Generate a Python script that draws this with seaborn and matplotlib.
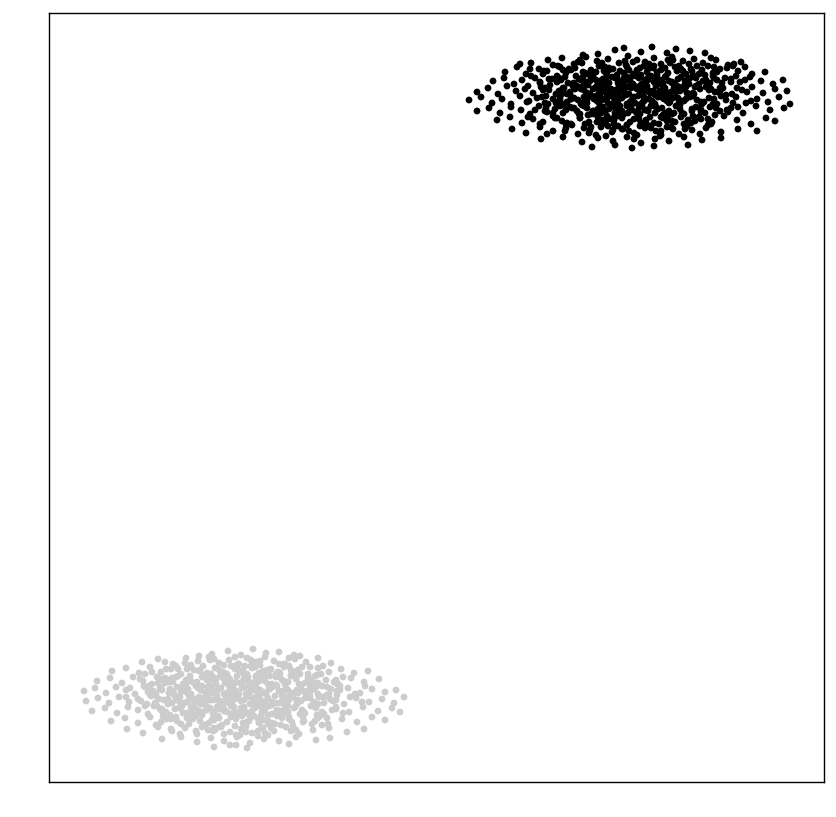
#!/usr/bin/env python
# -*- coding: utf-8 -*-
"""
Two separated point clouds, no ticks, plain frame
"""
import pandas
import matplotlib
matplotlib.use("Agg")
import matplotlib.pyplot as plt
import seaborn

# point positions (x right, y down, same units as the frame)
black_x = [
    598, 615, 624, 641, 652, 667, 676, 690, 705, 583,
    531, 548, 562, 574, 586, 597, 608, 619, 628, 637,
    645, 654, 661, 672, 683, 694, 703, 716, 728, 741,
    520, 553, 580, 602, 633, 650, 668, 689, 711, 734,
    505, 517, 526, 539, 547, 558, 566, 575, 583, 591,
    599, 606, 613, 620, 627, 633, 640, 647, 654, 661,
    668, 675, 683, 691, 699, 708, 717, 727, 738, 752,
    765, 543, 571, 596, 617, 637, 657, 679, 702, 745,
    530, 563, 588, 609, 624, 644, 665, 686, 713, 733,
    493, 504, 514, 522, 531, 540, 549, 557, 565, 572,
    579, 586, 593, 600, 606, 612, 618, 624, 630, 636,
    642, 648, 654, 660, 666, 672, 678, 685, 692, 699,
    706, 714, 722, 731, 740, 750, 761, 773, 783, 596,
    561, 583, 603, 621, 639, 657, 675, 695, 717, 745,
    609, 627, 645, 663, 681,
    535, 568, 590, 615, 633, 651, 669, 688, 710, 736,
    477, 488, 498, 507, 516, 525, 533, 541, 549, 556,
    563, 570, 577, 584, 590, 596, 602, 608, 613, 619,
    624, 629, 634, 640, 645, 651, 656, 662, 668, 674,
    680, 686, 693, 700, 707, 715, 723, 732, 742, 752,
    763, 775, 787, 559, 581, 599, 616, 637, 659, 683,
    545, 573, 593, 611, 627, 648, 671, 696, 720, 747,
    605, 621, 642, 665, 689, 528, 711, 587, 653, 631,
    567, 603, 677, 617, 647,
    469, 481, 492, 502, 511, 520, 529, 537, 545, 553,
    560, 567, 574, 581, 587, 593, 599, 605, 611, 616,
    622, 627, 632, 638, 643, 649, 655, 661, 667, 673,
    679, 686, 693, 701, 709, 717, 726, 736, 746, 757,
    768, 779, 790, 556, 578, 597, 614, 635, 658, 682,
    542, 571, 590, 608, 625, 646, 670, 697, 721, 751,
    602, 619, 641, 664, 688, 527, 713, 584, 652, 630,
    564, 600, 676, 612, 644,
    477, 489, 500, 511, 521, 530, 539, 547, 555, 563,
    570, 577, 584, 591, 598, 605, 612, 618, 624, 630,
    636, 642, 648, 655, 662, 669, 676, 684, 692, 701,
    710, 720, 731, 743, 756, 770, 784, 566, 594, 622,
    546, 580, 609, 639, 665, 696, 727, 651, 601, 680,
    535, 560, 587, 615, 645, 672, 705, 738, 627, 658,
    497, 510, 522, 533, 543, 553, 562, 571, 580, 589,
    598, 606, 614, 622, 630, 638, 646, 654, 663, 672,
    681, 691, 701, 712, 724, 737, 751, 766, 775, 585,
    557, 611, 641, 668, 695, 528, 618, 650, 603, 627,
    566, 684, 708, 540, 659,
    512, 526, 540, 553, 566, 578, 590, 601, 612, 623,
    634, 645, 656, 667, 679, 692, 706, 721, 738, 757,
    596, 618, 640, 661, 584, 629, 673, 650, 547, 700,
    541, 563, 582, 598, 613, 627, 641, 655, 669, 684,
    702, 721, 606, 634, 660,
    592, 615, 632, 654, 688,
    # dense middle
    544, 557, 569, 581, 593, 605, 617, 629, 641, 653,
    665, 677, 689, 701, 713, 550, 562, 574, 586, 598,
    610, 622, 634, 646, 658, 670, 682, 694, 706, 718,
    548, 560, 572, 584, 596, 608, 620, 632, 644, 656,
    668, 680, 692, 704, 716, 555, 567, 579, 591, 603,
    615, 627, 639, 651, 663, 675, 687, 699, 711, 565,
    589, 613, 637, 661, 685, 578, 601, 625, 649, 673,
    697, 720, 540, 552, 564, 576, 588, 600, 612, 624,
    636, 648, 660, 672, 684, 696, 708, 720, 546, 558,
    570, 582, 594, 606, 618, 630, 642, 654, 666, 678,
    690, 702, 714, 726, 553, 566, 580, 593, 607, 620,
    634, 647, 661, 674, 688, 701, 715, 728, 572, 597,
    622, 646, 671, 695, 585, 609, 633, 657, 681, 705,
    598, 611, 624, 637, 650, 663, 676, 689, 619, 645,
    587, 603, 632, 658, 684, 575, 596, 617, 641, 664,
    687, 709, 731, 543, 561, 588, 614, 640, 667, 693,
    559, 583, 607, 631, 655, 679, 703, 725, 616, 648,
    571, 594, 626, 652, 678, 700, 545, 733, 608, 641,
    560, 582, 604, 626, 648, 670, 692, 714, 737, 591,
    618, 644, 669, 695, 574, 601, 628, 655, 682, 708,
]
black_y = [
    54, 50, 48, 52, 47, 53, 49, 51, 53, 55,
    63, 60, 58, 64, 57, 61, 59, 63, 56, 60,
    62, 58, 64, 57, 61, 59, 63, 60, 65, 62,
    64, 65, 60, 63, 62, 65, 60, 64, 58, 64,
    72, 67, 74, 69, 71, 66, 73, 68, 72, 70,
    66, 73, 69, 71, 67, 74, 68, 72, 66, 70,
    73, 67, 71, 69, 74, 66, 72, 68, 71, 74,
    72, 74, 70, 72, 75, 70, 75, 66, 70, 67,
    69, 70, 74, 68, 73, 66, 68, 74, 73, 66,
    81, 78, 84, 80, 76, 83, 79, 82, 77, 84,
    79, 82, 76, 84, 80, 77, 83, 79, 81, 76,
    84, 78, 82, 80, 76, 83, 79, 81, 77, 84,
    80, 78, 83, 79, 82, 77, 81, 84, 80, 80,
    80, 77, 79, 82, 78, 81, 84, 76, 80, 80,
    83, 77, 80, 83, 77,
    78, 83, 81, 78, 84, 76, 81, 79, 83, 76,
    92, 88, 94, 86, 91, 89, 93, 87, 90, 94,
    88, 92, 86, 90, 94, 87, 91, 89, 93, 86,
    90, 94, 87, 91, 88, 93, 86, 90, 94, 88,
    91, 87, 93, 89, 86, 92, 88, 94, 90, 87,
    93, 89, 91, 91, 89, 92, 90, 89, 92, 89,
    88, 86, 89, 94, 87, 90, 92, 86, 91, 92,
    87, 91, 93, 88, 94, 86, 89, 93, 91, 88,
    94, 85, 86, 93, 86,
    100, 97, 103, 99, 104, 96, 101, 98, 103, 99,
    96, 102, 98, 104, 100, 97, 103, 99, 95, 101,
    98, 104, 100, 96, 102, 99, 104, 97, 101, 98,
    103, 99, 96, 102, 98, 104, 100, 97, 103, 99,
    102, 97, 104, 103, 100, 101, 98, 103, 96, 101,
    97, 99, 96, 103, 95, 99, 102, 100, 96, 101,
    100, 97, 104, 99, 96, 102, 104, 97, 101, 102,
    104, 96, 97, 104, 97,
    111, 108, 113, 107, 110, 114, 106, 112, 109, 113,
    107, 111, 106, 114, 109, 112, 107, 110, 114, 108,
    112, 106, 110, 113, 108, 111, 106, 114, 109, 112,
    107, 111, 108, 113, 106, 110, 108, 110, 111, 111,
    108, 114, 109, 108, 113, 107, 110, 106, 113, 109,
    110, 106, 108, 113, 110, 114, 113, 107, 106, 109,
    120, 117, 123, 119, 122, 116, 121, 124, 118, 122,
    117, 121, 124, 118, 122, 116, 120, 123, 118, 121,
    117, 123, 119, 122, 116, 120, 124, 118, 121, 124,
    118, 119, 123, 116, 120, 117, 116, 117, 124, 125,
    124, 124, 125, 124, 124,
    129, 133, 127, 131, 128, 134, 130, 127, 132, 129,
    133, 128, 131, 127, 134, 130, 128, 132, 129, 131,
    135, 126, 126, 135, 128, 131, 129, 126, 134, 134,
    139, 137, 142, 138, 141, 137, 143, 139, 141, 137,
    140, 138, 136, 139, 136,
    147, 145, 148, 146, 145,
    # dense middle
    71, 76, 69, 80, 73, 67, 78, 70, 75, 68,
    77, 71, 79, 73, 76, 85, 90, 83, 95, 88,
    93, 86, 97, 91, 84, 96, 89, 94, 87, 92,
    104, 99, 108, 102, 112, 97, 106, 110, 101, 107,
    99, 105, 111, 102, 108, 118, 123, 114, 127, 120,
    116, 125, 119, 128, 115, 122, 126, 117, 124, 131,
    133, 130, 135, 131, 129, 62, 66, 61, 64, 60,
    66, 69, 82, 79, 88, 76, 85, 81, 90, 78,
    87, 80, 91, 82, 86, 78, 83, 88, 96, 102,
    94, 105, 99, 93, 101, 108, 95, 103, 92, 106,
    97, 104, 99, 95, 113, 109, 118, 111, 116, 112,
    119, 110, 117, 113, 120, 110, 115, 112, 125, 122,
    129, 123, 127, 121, 73, 70, 76, 72, 69, 75,
    84, 89, 82, 87, 93, 85, 91, 84, 98, 100,
    103, 107, 104, 97, 101, 89, 96, 92, 85, 94,
    93, 90, 82, 90, 95, 115, 120, 114, 121, 116,
    78, 86, 75, 84, 79, 87, 81, 78, 107, 111,
    99, 114, 95, 105, 98, 108, 111, 103, 126, 90,
    67, 63, 71, 65, 69, 63, 71, 67, 88, 78,
    96, 88, 103, 87, 108, 91, 113, 95, 113, 119,
]

gray_x = [
    212, 228, 241, 253, 266, 279, 294, 199,
    142, 158, 173, 186, 198, 209, 219, 229, 238, 247,
    256, 265, 274, 284, 295, 306, 318, 331, 191, 214,
    235, 260, 279, 300, 165, 224, 251, 289,
    112, 126, 139, 150, 161, 171, 181, 190, 199, 207,
    215, 223, 231, 239, 247, 255, 263, 271, 280, 289,
    298, 308, 318, 329, 341, 354, 368, 176, 203, 227,
    251, 276, 302, 145, 194, 219, 243, 267, 294, 323,
    235, 259, 211, 284, 166,
    97, 110, 122, 133, 143, 152, 161, 170, 178, 186,
    194, 202, 209, 216, 223, 230, 237, 244, 251, 258,
    265, 272, 280, 288, 296, 305, 315, 326, 338, 351,
    364, 379, 157, 183, 206, 227, 248, 268, 291, 318,
    140, 172, 197, 220, 241, 262, 284, 309, 334, 213,
    234, 255, 276, 299, 190, 165, 343, 226, 244, 270,
    84, 95, 106, 116, 126, 135, 144, 153, 161, 169,
    177, 184, 191, 198, 205, 212, 218, 224, 230, 236,
    242, 248, 254, 260, 266, 272, 279, 286, 293, 301,
    309, 318, 327, 337, 348, 360, 372, 385, 396, 149,
    174, 196, 215, 233, 251, 269, 290, 314, 340, 365,
    130, 162, 188, 208, 227, 245, 263, 283, 305, 331,
    201, 221, 239, 257, 276, 297, 181, 156, 322, 355,
    86, 98, 109, 119, 129, 138, 147, 156, 164, 172,
    180, 187, 194, 201, 208, 214, 220, 226, 232, 238,
    244, 250, 256, 262, 268, 275, 282, 289, 297, 305,
    314, 323, 333, 344, 356, 369, 382, 394, 404, 141,
    168, 191, 211, 229, 247, 265, 286, 310, 336, 362,
    126, 159, 184, 204, 223, 241, 259, 279, 301, 327,
    198, 217, 235, 253, 272, 293, 176, 151, 318, 350,
    92, 105, 117, 128, 138, 148, 157, 166, 175, 183,
    191, 199, 206, 213, 220, 227, 234, 241, 248, 255,
    262, 269, 277, 285, 294, 303, 313, 324, 336, 349,
    363, 378, 392, 400, 162, 187, 210, 231, 252, 272,
    145, 179, 203, 224, 244, 265, 288, 316, 343, 237,
    196, 217, 258, 281, 300,
    111, 125, 138, 150, 161, 171, 181, 191, 200, 209,
    218, 227, 236, 245, 254, 263, 272, 282, 292, 303,
    315, 328, 342, 357, 372, 385, 196, 231, 259, 289,
    156, 214, 242, 268, 176, 222, 249, 320, 205, 277,
    127, 143, 158, 172, 185, 197, 208, 219, 230, 241,
    252, 263, 274, 286, 299, 313, 329, 347, 364, 224,
    202, 246, 268, 291, 180, 236, 258, 213,
    162, 181, 197, 211, 224, 237, 250, 264, 279, 296,
    316, 330, 230, 258,
    214, 236, 247, 289,
    # dense middle
    152, 165, 178, 191, 204, 217, 230, 243, 256, 269,
    282, 295, 308, 321, 160, 173, 186, 199, 212, 225,
    238, 251, 264, 277, 290, 303, 316, 329, 155, 168,
    181, 194, 207, 220, 233, 246, 259, 272, 285, 298,
    311, 324, 163, 177, 191, 205, 219, 233, 247, 261,
    275, 289, 303, 317, 171, 196, 221, 246, 271, 296,
    185, 210, 235, 260, 285, 310, 158, 176, 196, 216,
    236, 256, 276, 296, 316, 336, 150, 170, 190, 210,
    230, 250, 270, 290, 310, 330, 162, 182, 202, 222,
    242, 262, 282, 302, 322, 166, 189, 212, 235, 258,
    281, 304, 327, 200, 226, 252, 278, 145, 173, 201,
    229, 257, 285, 313, 340, 154, 180, 206, 232, 258,
    284, 310, 336, 193, 218, 243, 268, 293, 318, 228,
    249, 270, 291, 312, 188, 209, 231, 253, 275, 297,
    319, 170, 197, 224, 251, 278, 305, 332, 215, 240,
    265, 187, 213, 239, 265, 291, 317, 148, 175, 202,
    229, 256, 283, 310, 337, 160, 187, 214, 241, 268,
    295, 322, 181, 207, 233, 259, 285, 311, 337, 220,
    246, 272, 298, 324, 194, 214, 236, 262, 288, 245,
    168, 192, 216, 240, 264, 288, 312, 205, 254, 300,
]
gray_y = [
    654, 651, 655, 649, 653, 652, 655, 656,
    662, 659, 664, 658, 661, 657, 663, 660, 664, 658,
    662, 657, 661, 664, 659, 662, 658, 663, 665, 659,
    657, 665, 664, 656, 662, 665, 660, 658,
    671, 668, 673, 667, 672, 669, 674, 667, 671, 673,
    668, 672, 666, 670, 674, 667, 671, 669, 673, 666,
    670, 674, 668, 672, 669, 673, 671, 666, 666, 674,
    666, 674, 667, 674, 670, 670, 673, 670, 672, 666,
    669, 673, 674, 667, 669,
    681, 678, 683, 677, 681, 684, 679, 682, 676, 680,
    683, 677, 681, 684, 678, 682, 676, 680, 683, 678,
    681, 684, 677, 682, 679, 683, 676, 680, 684, 678,
    682, 679, 677, 684, 678, 680, 677, 684, 676, 683,
    679, 678, 682, 676, 683, 679, 681, 678, 682, 679,
    684, 682, 677, 684, 676, 683, 677, 678, 679, 676,
    691, 688, 693, 687, 690, 694, 686, 691, 688, 693,
    687, 691, 694, 688, 692, 686, 690, 694, 687, 691,
    688, 693, 686, 690, 694, 687, 691, 688, 693, 686,
    690, 694, 687, 691, 688, 693, 689, 692, 690, 686,
    694, 686, 692, 688, 691, 689, 693, 689, 686, 686,
    688, 690, 689, 687, 693, 687, 692, 691, 692, 689,
    690, 688, 694, 689, 686, 690, 692, 693, 686, 694,
    701, 698, 703, 697, 702, 699, 704, 696, 700, 703,
    697, 702, 699, 704, 696, 700, 703, 698, 702, 696,
    700, 704, 697, 701, 698, 703, 696, 700, 704, 698,
    702, 697, 701, 704, 698, 702, 699, 703, 697, 701,
    704, 696, 700, 703, 697, 702, 699, 696, 700, 702,
    697, 699, 703, 698, 704, 701, 696, 703, 701, 695,
    702, 696, 699, 702, 704, 697, 700, 696, 704, 697,
    711, 708, 713, 707, 710, 714, 706, 712, 709, 713,
    707, 711, 706, 714, 709, 712, 707, 710, 714, 708,
    712, 706, 710, 713, 708, 711, 706, 714, 709, 712,
    707, 711, 708, 712, 709, 713, 708, 706, 711, 714,
    706, 708, 712, 711, 707, 709, 706, 708, 713, 713,
    709, 707, 706, 711, 714,
    721, 718, 723, 717, 722, 719, 724, 718, 721, 723,
    717, 722, 719, 724, 716, 720, 723, 718, 722, 717,
    721, 724, 719, 722, 717, 720, 716, 717, 723, 719,
    725, 720, 716, 724, 717, 725, 721, 716, 725, 716,
    729, 733, 727, 731, 728, 734, 730, 727, 732, 729,
    733, 728, 731, 727, 734, 730, 728, 732, 729, 734,
    727, 727, 735, 731, 734, 735, 731, 731,
    739, 737, 742, 738, 741, 737, 743, 739, 741, 737,
    740, 738, 745, 736,
    747, 745, 748, 744,
    # dense middle
    672, 678, 669, 681, 675, 668, 679, 671, 677, 670,
    680, 673, 678, 674, 688, 692, 685, 697, 690, 683,
    695, 688, 693, 686, 698, 691, 687, 694, 703, 699,
    707, 701, 710, 704, 699, 712, 705, 702, 709, 700,
    706, 703, 716, 721, 714, 725, 718, 713, 722, 716,
    724, 717, 722, 715, 729, 731, 727, 732, 728, 730,
    663, 660, 666, 661, 664, 667, 683, 677, 684, 679,
    682, 676, 685, 678, 683, 680, 694, 689, 698, 693,
    690, 697, 689, 696, 692, 699, 711, 706, 715, 708,
    713, 707, 714, 710, 712, 719, 724, 720, 726, 719,
    725, 721, 718, 670, 674, 668, 672, 687, 682, 690,
    685, 691, 684, 689, 690, 706, 702, 699, 705, 700,
    704, 698, 707, 719, 716, 723, 715, 726, 718, 677,
    682, 687, 675, 686, 694, 700, 692, 702, 696, 701,
    697, 715, 711, 709, 717, 711, 713, 710, 730, 735,
    733, 669, 677, 664, 676, 670, 675, 692, 696, 686,
    698, 684, 699, 685, 695, 709, 718, 712, 708, 721,
    707, 725, 689, 680, 696, 681, 697, 681, 684, 701,
    694, 705, 693, 697, 703, 728, 716, 728, 712, 666,
    680, 710, 696, 683, 711, 690, 724, 705, 689, 674,
]

groups = ["a", "b"]
colors = {"a": "#000000", "b": "#cccccc"}

df = pandas.concat([
    pandas.DataFrame({"x": black_x, "y": black_y, "group": groups[0]}),
    pandas.DataFrame({"x": gray_x, "y": gray_y, "group": groups[1]}),
], ignore_index=True)

seaborn.set_theme(style="white", rc={"axes.edgecolor": "black", "axes.linewidth": 1.0})

f = plt.figure(figsize=(8.37, 8.17), dpi=100)
ax = f.add_axes([49 / 837, (817 - 782) / 817, 775 / 837, 769 / 817])
seaborn.scatterplot(data=df, x="x", y="y", hue="group", palette=colors,
                    s=24, linewidth=0, legend=False, ax=ax)
ax.set_xlim(49, 824)
ax.set_ylim(782, 13)
ax.set_xticks([])
ax.set_yticks([])
ax.set_xlabel("")
ax.set_ylabel("")
f.savefig("out.png", dpi=100)
plt.close()
